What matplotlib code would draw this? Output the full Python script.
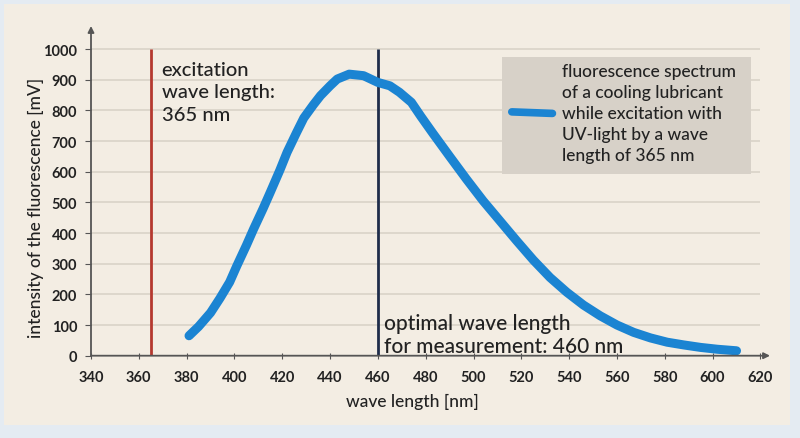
import numpy as np
import matplotlib.pyplot as plt
from matplotlib.patches import Rectangle

# dados
wave = [381, 385, 390, 394, 398, 401, 405, 408, 412, 415, 419, 422, 426, 429,
        433, 436, 440, 443, 448, 454, 460, 465, 469, 474, 478, 483, 490, 497,
        504, 511, 518, 525, 532, 539, 546, 553, 560, 567, 574, 581, 588, 595,
        602, 610]
intensity = [65, 95, 140, 188, 240, 293, 360, 413, 480, 533, 605, 663, 728, 775,
             818, 848, 880, 902, 918, 913, 891, 880, 859, 826, 780, 725, 650, 576,
             505, 440, 375, 312, 255, 207, 165, 130, 100, 76, 58, 44, 35, 27,
             21, 16]
excitation_wl = 365
optimal_wl = 460
x_ticks = list(range(340, 621, 20))
y_ticks = list(range(0, 1001, 100))

plt.rcParams['font.family'] = ['Lato', 'DejaVu Sans']
txt = '#222222'

fig = plt.figure(figsize=(8, 4.39), dpi=100)
fig.patch.set_facecolor('#e4ebf2')
fig.patches.append(Rectangle((4/800, 1-426/439), 786/800, 421/439,
                             transform=fig.transFigure, facecolor='#f3ede3',
                             edgecolor='none', zorder=-10))

ax = fig.add_axes([91/800, 1-356.7/439, 679/800, 329.7/439])
ax.set_facecolor('none')
ax.set_xlim(340, 624)
ax.set_ylim(0, 1075)

# grade
ax.hlines(y_ticks[1:], 340, 620, color='#d9d3c8', lw=1.2, zorder=1)

# linhas verticais
ax.vlines(excitation_wl, 0, 1000, color='#b5392f', lw=2, zorder=2)
ax.vlines(optimal_wl, 0, 1000, color='#1f2d4a', lw=2, zorder=2)

# curva
ax.plot(wave, intensity, color='#1b84d2', lw=6.5, solid_capstyle='round',
        solid_joinstyle='round', zorder=3)

# eixos com setas
for s in ax.spines.values():
    s.set_visible(False)
ax.annotate('', xy=(1, 0), xytext=(0, 0), xycoords='axes fraction',
            arrowprops=dict(arrowstyle='-|>', color='#555555', lw=1.3,
                            mutation_scale=9, shrinkA=0, shrinkB=0))
ax.annotate('', xy=(0, 1), xytext=(0, 0), xycoords='axes fraction',
            arrowprops=dict(arrowstyle='-|>', color='#555555', lw=1.3,
                            mutation_scale=9, shrinkA=0, shrinkB=0))

ax.set_xticks(x_ticks)
ax.set_yticks(y_ticks)
ax.tick_params(axis='x', direction='inout', length=5, color='#555555',
               labelsize=10.5, labelcolor=txt, pad=8)
ax.tick_params(axis='y', direction='out', length=4, color='#555555',
               labelsize=10.5, labelcolor=txt, pad=6)
for lab in ax.get_xticklabels() + ax.get_yticklabels():
    lab.set_fontweight('bold')

ax.set_xlabel('wave length [nm]', fontsize=12.5, color=txt, fontweight='medium')
ax.set_ylabel('intensity of the fluorescence [mV]', fontsize=12.5, color=txt,
              fontweight='medium')
ax.xaxis.set_label_coords(0.473, -0.113)
ax.yaxis.set_label_coords(-0.069, 0.45)

ax.text(369.5, 962, 'excitation\nwave length:\n365 nm', fontsize=14.5,
        color=txt, va='top', ha='left', linespacing=1.4, fontweight='medium')
ax.text(462.5, 138, 'optimal wave length\nfor measurement: 460 nm',
        fontsize=15, color=txt, va='top', ha='left', linespacing=1.15,
        fontweight='medium')

# legenda desenhada à mão
ax.add_patch(Rectangle((512, 592), 104, 382, facecolor='#d7d1c8',
                       edgecolor='none', zorder=4))
ax.plot([516, 533], [795, 790], color='#1b84d2', lw=5.5, solid_capstyle='round',
        zorder=5)
ax.text(537, 955, 'fluorescence spectrum\nof a cooling lubricant\n'
        'while excitation with\nUV-light by a wave\nlength of 365 nm',
        fontsize=12.5, color=txt, va='top', ha='left', linespacing=1.38,
        fontweight='medium', zorder=5)

plt.savefig('out.png', dpi=100, facecolor=fig.get_facecolor())
